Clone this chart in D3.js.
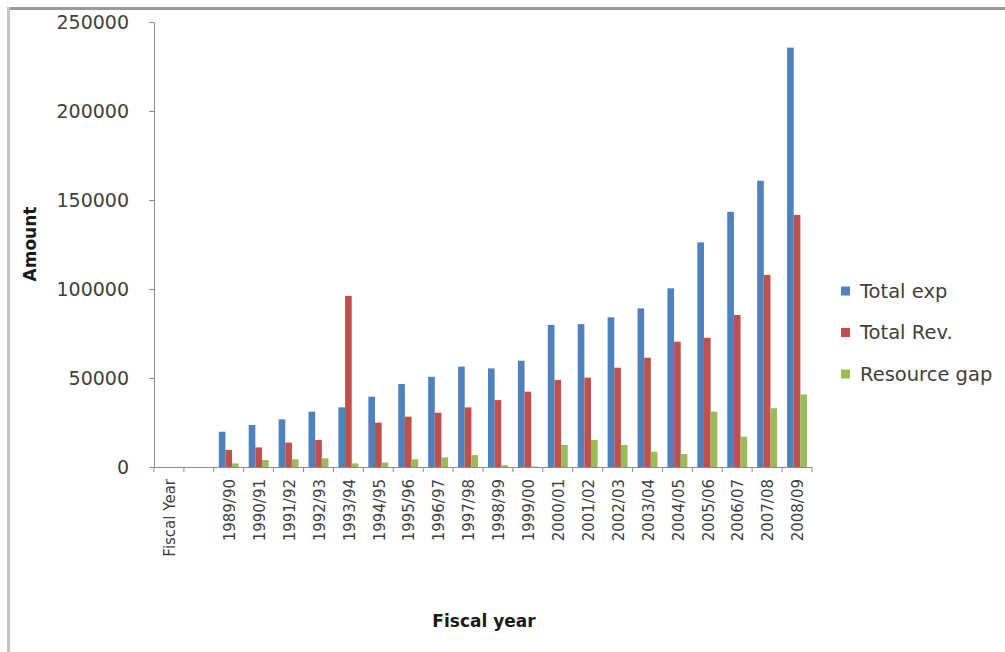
<!DOCTYPE html>
<html>
<head>
<meta charset="utf-8">
<script src="https://cdn.jsdelivr.net/npm/d3@7"></script>
<style>
  html, body { margin: 0; padding: 0; background: #fff; }
  svg { display: block; font-family: "DejaVu Sans", sans-serif; }
</style>
</head>
<body>
<svg id="chart" width="1005" height="652"></svg>
<script>
// Fiscal years (first two slots hold the header label and an empty slot)
const categories = ["Fiscal Year", " ", "1989/90", "1990/91", "1991/92", "1992/93", "1993/94",
  "1994/95", "1995/96", "1996/97", "1997/98", "1998/99", "1999/00", "2000/01", "2001/02",
  "2002/03", "2003/04", "2004/05", "2005/06", "2006/07", "2007/08", "2008/09"];

const totalExp = [0, 0, 19800, 23600, 26800, 31100, 33500, 39500, 46600, 50700, 56400,
  55400, 59700, 79800, 80300, 84100, 89100, 100400, 126200, 143400, 160800, 235600];

const totalRev = [0, 0, 9600, 11000, 13700, 15200, 96100, 24900, 28300, 30500, 33500,
  37600, 42300, 48900, 50200, 55800, 61400, 70400, 72600, 85400, 107900, 141600];

const resourceGap = [0, 0, 2000, 3900, 4300, 4900, 2000, 2500, 4300, 5400, 6700,
  1000, 300, 12400, 15200, 12400, 8600, 7300, 31100, 17000, 33000, 40800];

const seriesNames = ["Total exp", "Total Rev.", "Resource gap"];
const seriesColors = ["#4F81BD", "#C0504D", "#9BBB59"];
const yTicks = [0, 50000, 100000, 150000, 200000, 250000];

const svg = d3.select("#chart");

// outer frame edges
svg.append("line").attr("x1", 7).attr("x2", 1005).attr("y1", 8.5).attr("y2", 8.5)
  .attr("stroke", "#9a9a9a").attr("stroke-width", 3);
svg.append("line").attr("x1", 8.5).attr("x2", 8.5).attr("y1", 7).attr("y2", 652)
  .attr("stroke", "#c4c4c4").attr("stroke-width", 3);

const plot = { left: 154, right: 812, top: 22, bottom: 467 };

const x = d3.scaleBand().domain(categories).range([plot.left, plot.right])
  .paddingInner(0).paddingOuter(0);
const bw = x.bandwidth();
const gap = bw * 0.75 / 4.5;
const xs = d3.scaleBand().domain(seriesNames).range([gap, bw - gap]).padding(0);
const y = d3.scaleLinear().domain([0, 250000]).range([plot.bottom, plot.top]);

const color = d3.scaleOrdinal().domain(seriesNames).range(seriesColors);

// bars
const seriesData = [totalExp, totalRev, resourceGap];
const rows = [];
categories.forEach((c, i) => {
  seriesNames.forEach((s, k) => rows.push({ cat: c, series: s, value: seriesData[k][i] }));
});

svg.append("g").selectAll("rect")
  .data(rows.filter(d => d.value > 0))
  .join("rect")
  .attr("x", d => x(d.cat) + xs(d.series))
  .attr("width", xs.bandwidth())
  .attr("y", d => y(d.value))
  .attr("height", d => y(0) - y(d.value))
  .attr("fill", d => color(d.series));

// y axis
const yAxis = svg.append("g")
  .attr("transform", `translate(${plot.left},0)`)
  .call(d3.axisLeft(y).tickValues(yTicks).tickFormat(d3.format("d"))
    .tickSize(5).tickSizeOuter(0).tickPadding(20));
yAxis.select(".domain").attr("stroke", "#8c8c8c");
yAxis.selectAll(".tick line").attr("stroke", "#8c8c8c");
yAxis.selectAll(".tick text").attr("fill", "#404040").attr("font-size", 19)
  .attr("font-family", "DejaVu Sans");

// x axis: labels at category centres, ticks at category boundaries
const xAxis = svg.append("g")
  .attr("transform", `translate(0,${plot.bottom})`)
  .call(d3.axisBottom(x).tickSize(0).tickSizeOuter(0));
xAxis.select(".domain").attr("stroke", "#8c8c8c");
xAxis.selectAll(".tick text")
  .attr("fill", "#404040")
  .attr("font-size", 15)
  .attr("font-family", "DejaVu Sans")
  .attr("text-anchor", "end")
  .attr("transform", "rotate(-90)")
  .attr("x", -12)
  .attr("y", 1)
  .attr("dy", "0.35em");

const boundaries = categories.map(c => x(c)).concat([plot.right]);
svg.append("g").selectAll("line")
  .data(boundaries)
  .join("line")
  .attr("x1", d => d).attr("x2", d => d)
  .attr("y1", plot.bottom).attr("y2", plot.bottom + 5)
  .attr("stroke", "#8c8c8c");

// axis titles
svg.append("text")
  .attr("transform", `translate(36,244) rotate(-90)`)
  .attr("text-anchor", "middle")
  .attr("font-size", 17).attr("font-weight", "bold").attr("fill", "#1a1a1a")
  .text("Amount");

svg.append("text")
  .attr("x", 484).attr("y", 627)
  .attr("text-anchor", "middle")
  .attr("font-size", 17).attr("font-weight", "bold").attr("fill", "#1a1a1a")
  .text("Fiscal year");

// legend
const legend = svg.append("g").selectAll("g")
  .data(seriesNames)
  .join("g")
  .attr("transform", (d, i) => `translate(841,${291 + i * 41.5})`);
legend.append("rect")
  .attr("x", 0).attr("y", -4.5).attr("width", 9).attr("height", 9)
  .attr("fill", d => color(d));
legend.append("text")
  .attr("x", 19).attr("y", 0).attr("dy", "0.35em")
  .attr("font-size", 19.5).attr("fill", "#404040")
  .text(d => d);
</script>
</body>
</html>
